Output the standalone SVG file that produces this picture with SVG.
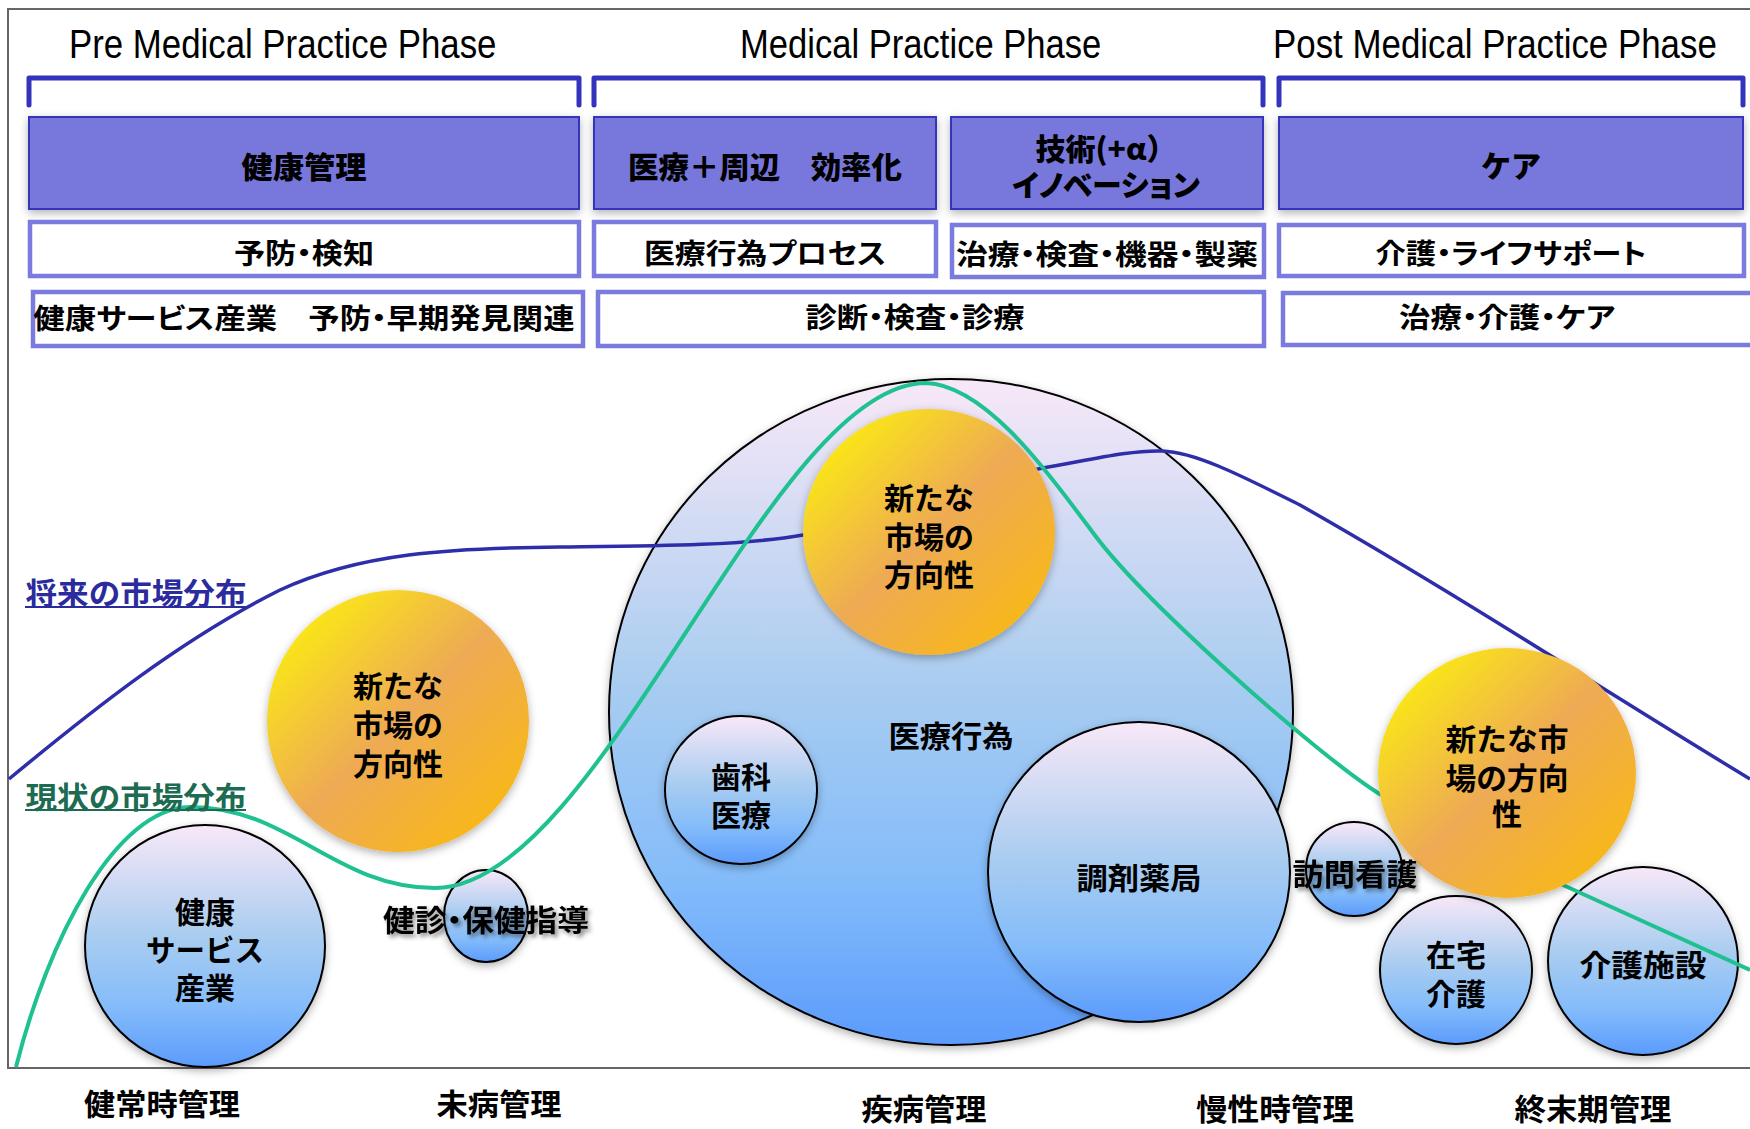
<svg xmlns="http://www.w3.org/2000/svg" width="1750" height="1129" viewBox="0 0 1750 1129">
<defs>
<linearGradient id="bg" x1="0" y1="0" x2="0" y2="1">
<stop offset="0" stop-color="#f8e8f8"/>
<stop offset="0.45" stop-color="#aacdf0"/>
<stop offset="0.75" stop-color="#84bcfa"/>
<stop offset="1" stop-color="#5b9bfc"/>
</linearGradient>
<linearGradient id="og" x1="0.12" y1="0.12" x2="0.88" y2="0.88">
<stop offset="0" stop-color="#fae816"/>
<stop offset="0.5" stop-color="#eeaa54"/>
<stop offset="1" stop-color="#f8b818"/>
</linearGradient>
<filter id="sh" x="-20%" y="-20%" width="140%" height="140%">
<feDropShadow dx="0" dy="3" stdDeviation="4" flood-color="#000" flood-opacity="0.3"/>
</filter>
<filter id="tsh" x="-10%" y="-30%" width="120%" height="160%">
<feDropShadow dx="3" dy="3" stdDeviation="2" flood-color="#000" flood-opacity="0.45"/>
</filter>
<style>
.ph{font-family:'Liberation Sans','DejaVu Sans',sans-serif;font-size:40px;fill:#000}
.jp{font-family:'Noto Sans CJK JP','Noto Sans CJK SC',sans-serif;font-weight:700;text-anchor:middle;dominant-baseline:central;fill:#000;font-size:30px}
.p{font-feature-settings:"palt"}
.hv{font-weight:900}
.wb{font-size:28px;font-weight:700}
.pb{fill:#7878dc;stroke:#3636bc;stroke-width:2}
.wbx{fill:#fff;stroke:#7b7bdf;stroke-width:4.5}
.br{fill:none;stroke:#3333bb;stroke-width:5;stroke-linecap:round;stroke-linejoin:round}
.bc{fill:url(#bg);stroke:#000;stroke-width:2;filter:url(#sh)}
.oc{fill:url(#og);filter:url(#sh)}
.frame{fill:none;stroke:#666;stroke-width:2}
</style>
</defs>
<rect x="0" y="0" width="1750" height="1129" fill="#fff"/>
<path class="frame" d="M1750,9 H8 V1068 H1750"/>

<g id="headers">
<text class="ph" transform="translate(69,58) scale(0.87,1)">Pre Medical Practice Phase</text>
<text class="ph" transform="translate(740,58) scale(0.865,1)">Medical Practice Phase</text>
<text class="ph" transform="translate(1273,58) scale(0.872,1)">Post Medical Practice Phase</text>
<path class="br" d="M29,105 V78 H579 V105"/>
<path class="br" d="M594,105 V78 H1263 V105"/>
<path class="br" d="M1279,105 V78 H1743 V105"/>
</g>

<g id="box-kenkokanri">
<rect class="pb" x="29" y="117" width="550" height="92" filter="url(#sh)"/>
<text class="jp hv" x="304" y="165" textLength="125" lengthAdjust="spacingAndGlyphs">健康管理</text>
</g>
<g id="box-kouritsu">
<rect class="pb" x="594" y="117" width="342" height="92" filter="url(#sh)"/>
<text class="jp hv" x="765" y="165" textLength="274" lengthAdjust="spacingAndGlyphs">医療＋周辺　効率化</text>
</g>
<g id="box-gijutsu">
<rect class="pb" x="951" y="117" width="312" height="92" filter="url(#sh)"/>
<text class="jp hv" x="1106" y="147" font-size="29" textLength="141" lengthAdjust="spacingAndGlyphs">技術(+α）</text>
<text class="jp hv p" x="1106" y="183" font-size="29" textLength="188" lengthAdjust="spacingAndGlyphs">イノベーション</text>
</g>
<g id="box-care">
<rect class="pb" x="1279" y="117" width="464" height="92" filter="url(#sh)"/>
<text class="jp hv" x="1511" y="164">ケア</text>
</g>

<g id="box-yobou">
<rect class="wbx" x="30" y="222" width="549" height="54"/>
<text class="jp wb p" x="304" y="252" textLength="140" lengthAdjust="spacingAndGlyphs">予防・検知</text>
</g>
<g id="box-process">
<rect class="wbx" x="594" y="222" width="342" height="54"/>
<text class="jp wb p" x="765" y="252" textLength="242" lengthAdjust="spacingAndGlyphs">医療行為プロセス</text>
</g>
<g id="box-chiryo">
<rect class="wbx" x="952" y="225" width="312" height="52"/>
<text class="jp wb p" x="1107" y="253" textLength="302" lengthAdjust="spacingAndGlyphs">治療・検査・機器・製薬</text>
</g>
<g id="box-life">
<rect class="wbx" x="1279" y="225" width="465" height="51"/>
<text class="jp wb p" x="1511" y="252" textLength="271" lengthAdjust="spacingAndGlyphs">介護・ライフサポート</text>
</g>
<g id="box-kenkoservice">
<rect class="wbx" x="33" y="292" width="550" height="54"/>
<text class="jp wb p" x="304" y="317" textLength="541" lengthAdjust="spacingAndGlyphs">健康サービス産業　予防・早期発見関連</text>
</g>
<g id="box-shindan">
<rect class="wbx" x="598" y="292" width="666" height="54"/>
<text class="jp wb p" x="915" y="316" textLength="219" lengthAdjust="spacingAndGlyphs">診断・検査・診療</text>
</g>
<g id="box-chiryokaigo">
<rect class="wbx" x="1283" y="293" width="470" height="52"/>
<text class="jp wb p" x="1507" y="316" textLength="216" lengthAdjust="spacingAndGlyphs">治療・介護・ケア</text>
</g>

<g id="n-kenkoservice">
<ellipse class="bc" cx="205" cy="946" rx="120" ry="121"/>
<text class="jp" x="205" y="910">健康</text>
<text class="jp" x="205" y="948" textLength="118" lengthAdjust="spacingAndGlyphs">サービス</text>
<text class="jp" x="205" y="986">産業</text>
</g>
<g id="n-kenshin">
<ellipse class="bc" cx="486" cy="916" rx="42" ry="46"/>
</g>
<g id="n-iryo">
<ellipse class="bc" cx="951" cy="712" rx="342" ry="333"/>
<text class="jp" x="951" y="734" textLength="125" lengthAdjust="spacingAndGlyphs">医療行為</text>
</g>

<g id="connectors">
<path id="future-curve" fill="none" stroke="#2e2eaa" stroke-width="3.5" d="M9,779 C90,712 180,640 280,590 C360,553 450,548 560,547 C650,546 740,546 803,535 L1038,469 C1090,460 1130,450 1162,451 C1195,452 1240,475 1300,505 C1450,590 1600,688 1750,779"/>
</g>

<g id="n-new2">
<ellipse class="oc" cx="929" cy="532" rx="126" ry="123"/>
<text class="jp" x="929" y="496">新たな</text>
<text class="jp" x="929" y="535">市場の</text>
<text class="jp" x="929" y="573">方向性</text>
</g>
<g id="n-shika">
<ellipse class="bc" cx="741" cy="790" rx="76" ry="74"/>
<text class="jp" x="741" y="775">歯科</text>
<text class="jp" x="741" y="813">医療</text>
</g>
<g id="n-chozai">
<ellipse class="bc" cx="1139" cy="872" rx="151" ry="150"/>
<text class="jp" x="1139" y="876" textLength="125" lengthAdjust="spacingAndGlyphs">調剤薬局</text>
</g>
<g id="n-houmon">
<ellipse class="bc" cx="1354" cy="869" rx="48" ry="47"/>
</g>
<g id="n-zaitaku">
<ellipse class="bc" cx="1456" cy="970" rx="76" ry="74"/>
<text class="jp" x="1456" y="953">在宅</text>
<text class="jp" x="1456" y="992">介護</text>
</g>
<g id="n-shisetsu">
<ellipse class="bc" cx="1643" cy="961" rx="95" ry="94"/>
<text class="jp" x="1643" y="963" textLength="127" lengthAdjust="spacingAndGlyphs">介護施設</text>
</g>

<g id="connectors-current">
<path id="current-curve" fill="none" stroke="#1fc191" stroke-width="4" d="M16,1067 C48,940 115,808 190,807 C290,807 335,888 435,888 C600,888 770,383 926,383 C990,385 1060,490 1091,530 C1141,600 1318,755 1378,793 C1440,830 1500,858 1563,885 L1750,970"/>
</g>

<g id="n-new1">
<ellipse class="oc" cx="398" cy="721" rx="131" ry="131"/>
<text class="jp" x="398" y="684">新たな</text>
<text class="jp" x="398" y="723">市場の</text>
<text class="jp" x="398" y="762">方向性</text>
</g>
<g id="n-new3">
<ellipse class="oc" cx="1507" cy="773" rx="129" ry="125"/>
<text class="jp" x="1507" y="737" textLength="123" lengthAdjust="spacingAndGlyphs">新たな市</text>
<text class="jp" x="1507" y="776" textLength="123" lengthAdjust="spacingAndGlyphs">場の方向</text>
<text class="jp" x="1507" y="812">性</text>
</g>

<g id="n-houmon-label">
<text class="jp" x="1355" y="872" font-size="31" filter="url(#tsh)" textLength="125" lengthAdjust="spacingAndGlyphs">訪問看護</text>
</g>
<g id="n-kenshin-label">
<text class="jp p" x="486" y="918" filter="url(#tsh)" textLength="206" lengthAdjust="spacingAndGlyphs">健診・保健指導</text>
</g>

<g id="legend">
<text class="jp" x="136" y="591" style="fill:#2b2b9e" textLength="221" lengthAdjust="spacingAndGlyphs">将来の市場分布</text>
<line x1="25" y1="607" x2="246" y2="607" stroke="#2b2b9e" stroke-width="2"/>
<text class="jp" x="136" y="795" style="fill:#1d6b52" textLength="221" lengthAdjust="spacingAndGlyphs">現状の市場分布</text>
<line x1="25" y1="810" x2="246" y2="810" stroke="#1d6b52" stroke-width="2"/>
</g>

<g id="axis-labels">
<text class="jp" x="162" y="1102" font-size="31" textLength="156" lengthAdjust="spacingAndGlyphs">健常時管理</text>
<text class="jp" x="499" y="1102" font-size="31" textLength="125" lengthAdjust="spacingAndGlyphs">未病管理</text>
<text class="jp" x="924" y="1107" font-size="31" textLength="125" lengthAdjust="spacingAndGlyphs">疾病管理</text>
<text class="jp" x="1275" y="1107" font-size="31" textLength="158" lengthAdjust="spacingAndGlyphs">慢性時管理</text>
<text class="jp" x="1593" y="1107" font-size="31" textLength="157" lengthAdjust="spacingAndGlyphs">終末期管理</text>
</g>
</svg>
